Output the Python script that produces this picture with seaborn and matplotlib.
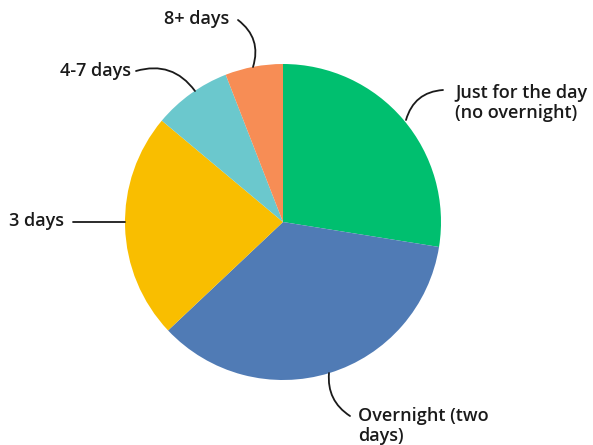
import matplotlib
matplotlib.use("Agg")
import matplotlib.pyplot as plt
import seaborn as sns

categories = ["Just for the day\n(no overnight)", "Overnight (two\ndays)", "3 days", "4-7 days", "8+ days"]
values = [27.5, 35.4, 23.1, 8.0, 5.9]
colors = ["#00BF6F", "#507BB5", "#F9BE00", "#6BC8CD", "#F78D55"]

sns.set_theme(style="white")
plt.rcParams['font.family'] = ['Open Sans', 'DejaVu Sans']

W, H = 593, 445
CX, CY, R = 283, 222, 158

fig = plt.figure(figsize=(W / 100, H / 100), dpi=100)
ax = fig.add_axes([0, 0, 1, 1])
ax.pie(values, colors=colors, startangle=90, counterclock=False, radius=1,
       center=(0, 0), wedgeprops=dict(linewidth=0))
ax.set_xlim(-CX / R, (W - CX) / R)
ax.set_ylim(-(H - CY) / R, CY / R)
ax.set_aspect('auto')
ax.axis('off')


def d(px, py):
    return ((px - CX) / R, (CY - py) / R)


fs = 13
kw = dict(fontsize=fs, fontweight='semibold', color='#1a1a1a', va='center', linespacing=1.2)

# labels: (text, text_px, ha, line_start_px, line_end_px, rad)
labels = [
    (categories[0], (455, 103), 'left', (443, 90), (406, 120), 0.35),
    (categories[1], (358, 426), 'left', (350, 416), (329, 373), -0.3),
    (categories[2], (64, 221), 'right', (73, 222), (125, 222), 0.0),
    (categories[3], (131, 71), 'right', (136, 71), (195, 91), -0.35),
    (categories[4], (229, 19), 'right', (238, 20), (253, 67), -0.35),
]

for text, tp, ha, ls, le, rad in labels:
    ax.text(*d(*tp), text, ha=ha, **kw)
    ax.annotate('', xy=d(*le), xytext=d(*ls),
                arrowprops=dict(arrowstyle='-', color='#1a1a1a', lw=1.3,
                                shrinkA=0, shrinkB=0,
                                connectionstyle=f'arc3,rad={rad}'))

fig.savefig("out.png", dpi=100, facecolor='white')
